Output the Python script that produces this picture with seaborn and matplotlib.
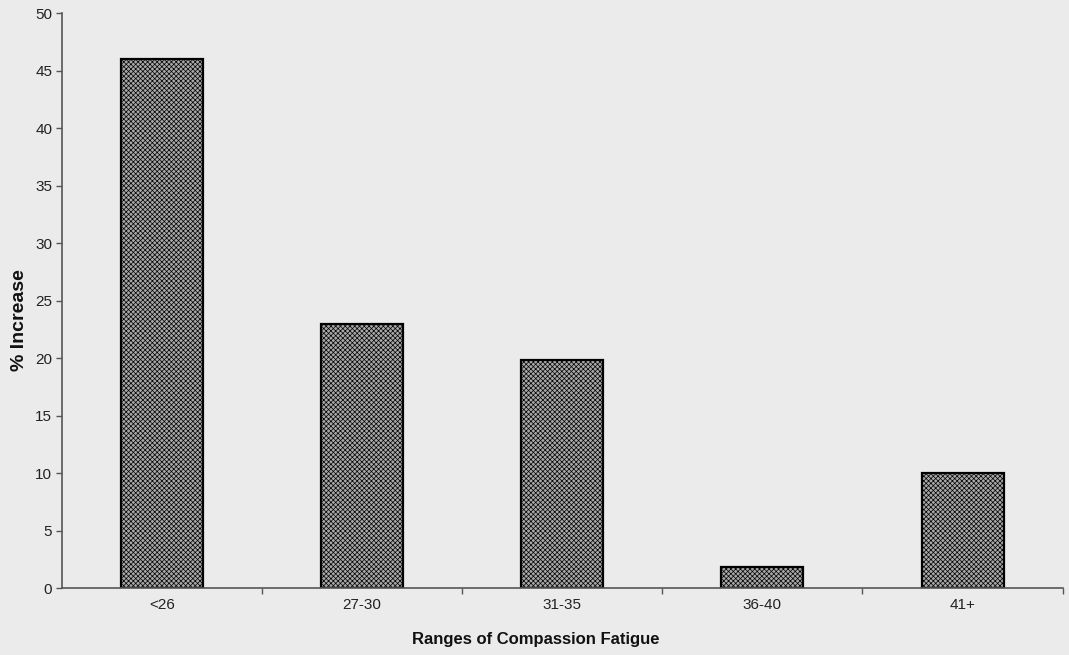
import numpy as np
import pandas as pd
import matplotlib
matplotlib.use("Agg")
import matplotlib.pyplot as plt
from matplotlib.ticker import FixedLocator
import seaborn as sns

ranges = ["<26", "27-30", "31-35", "36-40", "41+"]
pct_increase = [46.0, 23.0, 19.8, 1.8, 10.0]
y_ticks = [0, 5, 10, 15, 20, 25, 30, 35, 40, 45, 50]

df = pd.DataFrame({"range": ranges, "pct": pct_increase})

sns.set_style("white")
plt.rcParams["font.family"] = ["Liberation Sans", "DejaVu Sans"]
plt.rcParams["hatch.color"] = "#828282"
plt.rcParams["hatch.linewidth"] = 0.5

fig = plt.figure(figsize=(10.69, 6.55), dpi=100, facecolor="#ebebeb")
ax = fig.add_axes([0.058, 0.102, 0.936, 0.878])
ax.set_facecolor("#ebebeb")

sns.barplot(data=df, x="range", y="pct", color="#a8a8a8", width=0.41,
            edgecolor="black", linewidth=1.6, ax=ax, saturation=1)
for p in ax.patches:
    p.set_hatch("xxxxxxx")

ax.set_xlim(-0.5, 4.5)
ax.set_ylim(0, 50)
ax.set_yticks(y_ticks)
ax.xaxis.set_minor_locator(FixedLocator([0.5, 1.5, 2.5, 3.5, 4.5]))
ax.tick_params(axis="x", which="major", length=0, pad=7, labelsize=11, colors="#222222")
ax.tick_params(axis="x", which="minor", length=4, width=1, color="#555555", direction="out", bottom=True)
ax.tick_params(axis="y", length=4, width=1, color="#555555", direction="out", left=True,
               labelsize=11, pad=3, labelcolor="#222222")

for s in ["top", "right"]:
    ax.spines[s].set_visible(False)
for s in ["left", "bottom"]:
    ax.spines[s].set_color("#555555")
    ax.spines[s].set_linewidth(1.2)

ax.set_ylabel("% Increase", fontsize=14, fontweight="bold", color="#111111")
ax.yaxis.set_label_coords(-0.034, 0.466)
ax.set_xlabel("Ranges of Compassion Fatigue", fontsize=12, fontweight="bold", color="#111111")
ax.xaxis.set_label_coords(0.473, -0.077)

fig.savefig("out.png", dpi=100, facecolor=fig.get_facecolor())
